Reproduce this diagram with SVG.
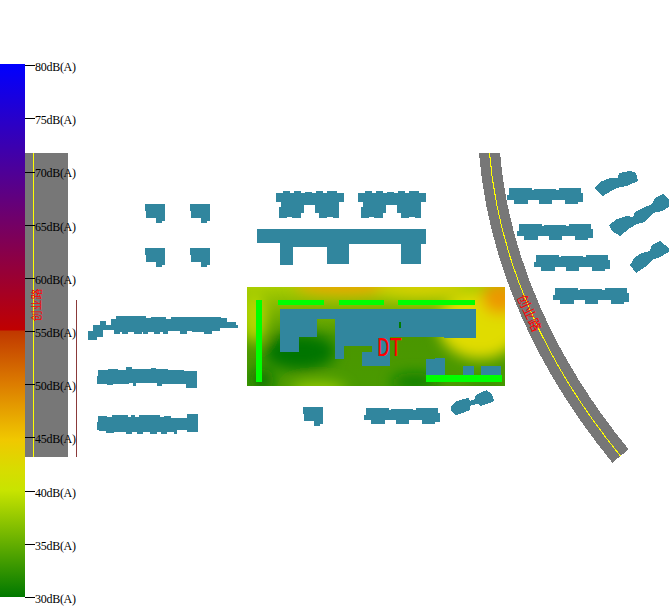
<svg xmlns="http://www.w3.org/2000/svg" width="671" height="616" viewBox="0 0 671 616">
<style>
.t{font-family:"Liberation Serif",serif;font-size:12px;fill:#000}
.k{stroke:#000;stroke-width:1;fill:none;shape-rendering:crispEdges}
.b{fill:#31869e;shape-rendering:crispEdges}
.g{fill:#00ff00;shape-rendering:crispEdges}
.r{fill:#777;shape-rendering:crispEdges}
.y{fill:none;stroke:#ffff00;stroke-width:1;shape-rendering:crispEdges}
.z{font-family:"Noto Sans CJK SC",sans-serif;font-size:11px;fill:#ff0000}
</style>
<defs>
<linearGradient id="lg" x1="0" y1="0" x2="0" y2="1">
<stop offset="0" stop-color="#0000ff"/>
<stop offset="0.499" stop-color="#c00000"/>
<stop offset="0.501" stop-color="#c03800"/>
<stop offset="0.6" stop-color="#dc7c00"/>
<stop offset="0.705" stop-color="#f0c800"/>
<stop offset="0.76" stop-color="#d8dc00"/>
<stop offset="0.8" stop-color="#c8e400"/>
<stop offset="1" stop-color="#007800"/>
</linearGradient>
<linearGradient id="cg" x1="0" y1="0" x2="0" y2="1">
<stop offset="0" stop-color="#a8cc00"/>
<stop offset="0.5" stop-color="#4a9600"/>
<stop offset="1" stop-color="#4a9a00"/>
</linearGradient>
<filter id="bl" x="-50%" y="-50%" width="200%" height="200%"><feGaussianBlur stdDeviation="7"/></filter>
<clipPath id="cc"><rect x="247" y="287" width="258" height="99"/></clipPath>
<clipPath id="rc"><rect x="470" y="153" width="201" height="320"/></clipPath>
<path id="sm" d="M0 0H20V17H17V19H11V14H1V7H0Z"/>
<path id="bl3" d="M2 0H25V2H27V1H49V2H52V0H74V5H76V14H71V16H58V12H45V16H32V12H21V16H7V12H0V7H2Z"/>
<path id="top2" d="M408 24H429V18H450V24H462V18H483V24H495V21H516V24H528V18H549V24H561V18H591V24H612V51H597V99H579V96H561V99H537V84H525V60H492V84H483V99H456V96H441V99H417V66H423V51H408Z"/>
</defs>
<g id="legend">
<rect x="0" y="64" width="25" height="533" fill="url(#lg)"/>
</g>
<g id="left-road">
<rect class="r" x="25" y="153" width="43" height="304"/>
<line class="y" x1="33.500" y1="153" x2="33.500" y2="457"/>
<text class="z" transform="translate(41,305) rotate(-90)" text-anchor="middle">创业路</text>
<line x1="76.500" y1="300" x2="76.500" y2="457" stroke="#8b3a3a" stroke-width="1" shape-rendering="crispEdges"/>
</g>
<g id="right-road">
<g clip-path="url(#rc)">
<path d="M488.800 143C496 262 550 370 620.500 456" fill="none" stroke="#777" stroke-width="21" shape-rendering="crispEdges"/>
<path class="y" d="M488.800 143C496 262 550 370 620.500 456"/>
</g>
<text class="z" transform="translate(525,315) rotate(65)" text-anchor="middle" style="font-size:13px">创业路</text>
</g>
<g id="contour">
<rect x="247" y="287" width="258" height="99" fill="url(#cg)"/>
<g clip-path="url(#cc)"><g filter="url(#bl)">
<ellipse cx="480" cy="325" rx="42" ry="34" fill="#e0dc00"/>
<ellipse cx="500" cy="298" rx="18" ry="16" fill="#ec9800"/>
<ellipse cx="345" cy="285" rx="50" ry="10" fill="#e8a800"/>
<ellipse cx="420" cy="288" rx="44" ry="9" fill="#d8d000"/>
<ellipse cx="300" cy="352" rx="36" ry="18" fill="#007400"/>
<ellipse cx="262" cy="380" rx="12" ry="12" fill="#087800"/>
<ellipse cx="415" cy="382" rx="24" ry="9" fill="#108000"/>
<ellipse cx="254" cy="318" rx="12" ry="26" fill="#b8d800"/>
<ellipse cx="318" cy="390" rx="28" ry="8" fill="#98cc00"/>
<ellipse cx="485" cy="388" rx="20" ry="7" fill="#389000"/>
</g></g>
</g>
<g id="building-main" transform="translate(240 280) scale(0.33333)">
<path class="b" d="M120 87H708V174H612V171H450V258H366V216H396V198H312V237H285V117H231V171H177V216H120Z"/>
<rect x="477" y="126" width="6" height="18" fill="#007c00"/>
<path class="b" d="M558 237H585V234H615V285H558Z"/>
<rect class="b" x="669" y="258" width="33" height="27"/>
<rect class="b" x="723" y="258" width="60" height="27"/>
<rect class="g" x="48" y="60" width="18" height="246"/>
<rect class="g" x="114" y="60" width="138" height="15"/>
<rect class="g" x="297" y="60" width="135" height="15"/>
<rect class="g" x="474" y="60" width="231" height="15"/>
<rect class="g" x="558" y="285" width="228" height="21"/>
</g>
<g id="label-dt"><text transform="translate(377,356) scale(1,1.35)" style="font-family:'Liberation Mono',monospace;font-size:21px;fill:#ff0000">DT</text></g>
<g id="buildings-left" transform="translate(85 310) scale(0.33333)">
<path class="b" d="M9 90V63H24V45H45V33H63V45H78V27H93V18H183V24H198V21H243V27H258V21H408V24H426V36H453V45H459V54H405V63H381V72H357V66H321V63H306V72H285V63H249V72H234V66H225V72H207V66H189V72H174V66H171V72H147V66H129V72H111V66H105V72H87V60H54V81H36V90Z"/>
<path class="b" d="M39 180H69V177H99V180H123V171H141V177H198V174H213V177H249V180H297V183H336V234H303V222H231V228H216V219H153V228H144V219H132V222H84V225H66V222H36V198H39Z"/>
<path class="b" d="M39 318H66V321H81V315H129V321H138V315H150V321H162V315H225V321H237V318H258V324H306V312H339V366H306V360H276V372H267V366H246V372H228V366H216V372H195V366H174V372H156V366H141V372H123V366H87V369H63V363H48L36 360V336H39Z"/>
</g>
<g id="buildings-small">
<use href="#sm" class="b" x="145" y="204"/>
<use href="#sm" class="b" x="190" y="204"/>
<use href="#sm" class="b" x="145" y="248"/>
<use href="#sm" class="b" x="190" y="248"/>
<use href="#sm" class="b" x="303" y="407"/>
</g>
<g id="buildings-top" transform="translate(140 185) scale(0.33333)">
<use href="#top2" class="b"/>
<use href="#top2" class="b" x="246"/>
<path class="b" d="M351 132H858V177H843V237H783V177H627V237H561V186H459V240H420V174H351Z"/>
</g>
<g id="buildings-bottom">
<use href="#bl3" class="b" x="364" y="408"/>
<path class="b" transform="translate(295 385) scale(0.33333)" d="M468 66L480 51L495 45L520 39L525 48L540 42L542 30L575 15L592 30L597 48L585 54L555 63L553 57L527 60L525 75L495 87L483 90L468 78Z"/>
</g>
<g id="buildings-right">
<use href="#bl3" class="b" x="507" y="188"/>
<use href="#bl3" class="b" x="517" y="224"/>
<use href="#bl3" class="b" x="534" y="255"/>
<use href="#bl3" class="b" x="553" y="288"/>
<path class="b" d="M594 188L600 182L610 178L618 178L619 173L630 171L636 173L638 181L627 186L620 187L613 190L603 196L598 192Z"/>
<path class="b" d="M609 225L617 219L627 216L633 217L635 212L643 208L652 204L655 198L663 194L669 200L669 207L662 211L653 213L645 222L637 224L630 228L620 236L612 231Z"/>
<path class="b" d="M630 265L635 257L642 253L650 251L652 245L660 241L669 248L669 252L660 257L652 260L645 267L636 273Z"/>
</g>
<g id="ticks">
<path class="k" d="M25 65.500H35M25 118.500H35M25 172.500H35M25 225.500H35M25 278.500H35M25 331.500H35M25 384.500H35M25 437.500H35M25 491.500H35M25 544.500H35M25 597.500H35"/>
</g>
<g id="tick-labels">
<text class="t" x="35" y="71" textLength="41">80dB(A)</text>
<text class="t" x="35" y="124" textLength="41">75dB(A)</text>
<text class="t" x="35" y="177" textLength="41">70dB(A)</text>
<text class="t" x="35" y="231" textLength="41">65dB(A)</text>
<text class="t" x="35" y="284" textLength="41">60dB(A)</text>
<text class="t" x="35" y="337" textLength="41">55dB(A)</text>
<text class="t" x="35" y="390" textLength="41">50dB(A)</text>
<text class="t" x="35" y="443" textLength="41">45dB(A)</text>
<text class="t" x="35" y="497" textLength="41">40dB(A)</text>
<text class="t" x="35" y="550" textLength="41">35dB(A)</text>
<text class="t" x="35" y="603" textLength="41">30dB(A)</text>
</g>
</svg>
